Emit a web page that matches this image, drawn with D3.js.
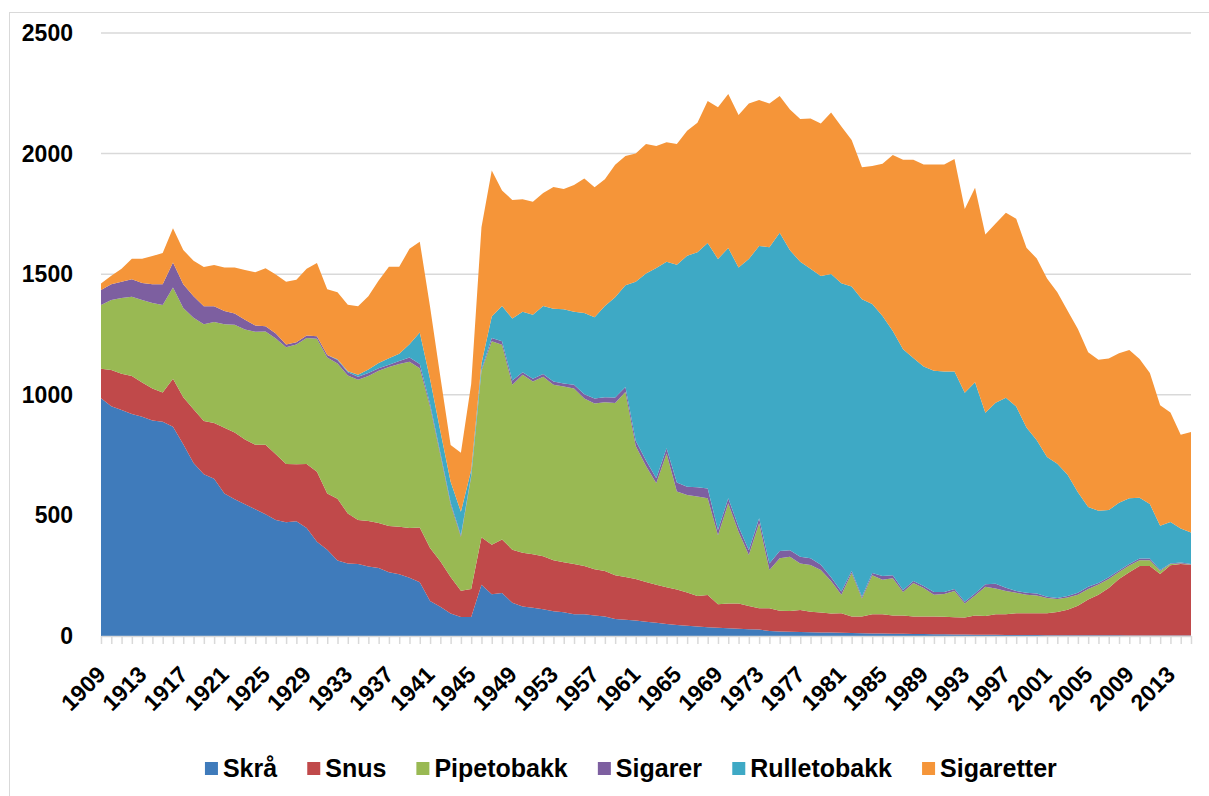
<!DOCTYPE html>
<html><head><meta charset="utf-8">
<script src="https://cdn.jsdelivr.net/npm/d3@7"></script>
<style>
body{margin:0;background:#fff;}
svg{display:block;font-family:"Liberation Sans",Arial,sans-serif;}
</style>
</head><body>
<svg id="chart" width="1209" height="796"></svg>
<script>
// ---- DATA ----
const years = d3.range(1909, 2016);
const skra = [986,953,937,920,909,893,888,868,795,717,
  671,652,591,567,546,526,505,481,472,476,
  448,391,358,313,301,298,288,282,264,256,
  242,223,145,121,93,79,79,212,173,178,
  138,122,117,111,103,98,90,90,85,81,
  70,67,64,59,55,50,46,42,39,36,
  34,32,30,28,27,21,19,18,17,16,
  15,14,13,12,11,10,10,9,9,8,
  8,7,7,6,6,5,5,5,4,4,
  4,4,3,3,3,3,3,3,3,3,
  2,2,2,2,2,2,2];
const snus = [122,150,150,158,142,133,122,199,195,223,
  220,231,272,277,269,267,288,273,241,236,
  265,290,233,256,207,183,189,187,192,197,
  206,227,220,189,152,109,116,197,205,222,
  220,223,222,220,211,208,208,200,192,188,
  182,178,172,165,157,152,147,138,127,134,
  98,103,105,96,88,94,86,86,91,85,
  82,79,81,69,70,80,80,76,76,73,
  73,74,73,72,71,80,78,85,86,90,
  90,90,91,96,106,122,148,168,196,233,
  262,288,288,255,291,296,293];
const pipetobakk = [264,290,314,329,342,355,362,378,370,379,
  401,419,429,446,456,468,469,479,484,497,
  523,551,564,561,572,581,601,631,659,675,
  689,660,585,440,300,224,465,690,844,808,
  684,738,716,744,728,728,728,695,687,700,
  714,767,552,481,421,555,406,405,412,401,
  286,415,297,212,352,159,217,225,193,193,
  177,135,77,180,74,162,143,154,97,139,
  118,90,94,109,58,83,121,107,97,85,
  77,74,64,54,51,46,44,42,37,29,
  28,24,24,12,5,3,1];
const sigarer = [62,65,68,72,70,77,86,103,98,90,
  75,65,55,47,40,26,22,21,12,9,
  10,11,10,14,13,13,12,10,10,12,
  18,18,12,10,8,6,5,6,13,14,
  17,11,12,11,13,13,16,17,21,21,
  23,20,22,23,21,21,37,34,39,41,
  21,21,21,20,21,27,30,27,28,28,
  21,16,13,8,8,9,16,13,9,8,
  8,11,8,8,7,8,11,20,13,8,
  8,8,5,5,6,8,9,7,8,7,
  6,7,7,5,3,4,2];
const rulletobakk = [0,0,0,0,0,0,0,0,0,0,
  0,0,0,0,0,0,0,0,0,0,
  0,0,0,3,5,8,15,22,27,30,
  55,130,103,90,87,97,23,25,90,146,
  257,250,265,282,302,308,302,337,337,378,
  415,422,659,775,872,774,903,957,974,1017,
  1124,1038,1075,1207,1129,1311,1320,1243,1223,1201,
  1198,1257,1278,1180,1233,1115,1078,1013,998,925,
  910,918,915,902,866,876,711,750,788,764,
  685,636,579,556,503,417,331,299,278,280,
  273,252,226,183,172,141,131];
const sigaretter = [27,36,54,85,101,117,130,142,142,147,
  163,171,181,191,206,221,241,245,260,259,
  277,303,273,278,275,284,304,342,379,361,
  395,377,300,225,152,245,357,565,605,479,
  492,467,468,469,505,498,526,558,538,526,
  550,536,531,537,505,495,501,519,537,589,
  629,638,632,645,605,596,567,584,591,623,
  632,669,650,607,547,573,631,729,786,822,
  838,855,858,881,762,806,739,743,767,779,
  746,753,740,711,679,677,641,626,628,620,
  615,575,543,500,454,388,417];

const seriesNames = ["Skrå","Snus","Pipetobakk","Sigarer","Rulletobakk","Sigaretter"];
const seriesValues = [skra, snus, pipetobakk, sigarer, rulletobakk, sigaretter];
const colors = ["#3f7bbb","#c0494a","#99b953","#7d5fa0","#3ea9c5","#f59539"];
const yTicks = [0,500,1000,1500,2000,2500];
const xLabelYears = years.filter((yr,i) => i % 4 === 0);

// ---- BUILD ----
(function(){
const rows = years.map((yr,i) => {
  const r = {year: yr};
  seriesNames.forEach((n,k) => r[n] = seriesValues[k][i]);
  return r;
});
const stacked = d3.stack().keys(seriesNames)(rows);

const svg = d3.select("#chart");
const mLeft = 101, mRight = 1191, mTop = 33, mBottom = 636;

// outer chart border (only top/left visible in reference)
svg.append("rect").attr("x",9.5).attr("y",12.5).attr("width",1400).attr("height",1000)
  .attr("fill","none").attr("stroke","#d9d9d9").attr("stroke-width",1);

const x = d3.scalePoint().domain(years).range([mLeft, mRight]);
const y = d3.scaleLinear().domain([0,2500]).range([mBottom, mTop]);

// gridlines
svg.append("g").selectAll("line").data(yTicks.filter(t=>t>0)).join("line")
  .attr("x1", mLeft).attr("x2", mRight)
  .attr("y1", d=>y(d)).attr("y2", d=>y(d))
  .attr("stroke","#d9d9d9").attr("stroke-width",1.5);

// areas
const area = d3.area()
  .x(d => x(d.data.year))
  .y0(d => y(d[0]))
  .y1(d => y(d[1]));
svg.append("g").selectAll("path").data(stacked).join("path")
  .attr("d", area)
  .attr("fill", (d,i) => colors[i]);

// x axis
const xAxis = d3.axisBottom(x).tickValues(years).tickSize(8).tickSizeOuter(0).tickFormat("");
const gx = svg.append("g").attr("transform",`translate(0,${mBottom})`).call(xAxis);
gx.select(".domain").attr("stroke","#d9d9d9").attr("stroke-width",1.5);
gx.selectAll(".tick line").attr("stroke","#d9d9d9").attr("stroke-width",1.5);

// x labels
svg.append("g").selectAll("text").data(xLabelYears).join("text")
  .attr("transform", d => `translate(${x(d)+6},${676}) rotate(-45)`)
  .attr("text-anchor","end")
  .attr("font-size", 23).attr("font-weight","bold").attr("fill","#000")
  .text(d => d);

// y labels
svg.append("g").selectAll("text").data(yTicks).join("text")
  .attr("x", 73).attr("y", d => y(d))
  .attr("dy","0.35em")
  .attr("text-anchor","end")
  .attr("font-size", 23).attr("font-weight","bold").attr("fill","#000")
  .text(d => d);

// legend
const lg = svg.append("g");
const items = lg.selectAll("g").data(seriesNames).join("g");
items.append("rect").attr("width",13).attr("height",13).attr("y",-15)
  .attr("fill",(d,i)=>colors[i]);
items.append("text").attr("x",18).attr("y",0)
  .attr("font-size",25).attr("font-weight","bold").attr("fill","#000")
  .text(d=>d);
let cx = 0;
const gap = 30;
items.each(function(){
  const w = this.getBBox().width;
  d3.select(this).attr("transform",`translate(${cx},0)`);
  cx += w + gap;
});
const totalW = cx - gap;
lg.attr("transform",`translate(${631 - totalW/2},${777})`);
})();
</script>
</body></html>
